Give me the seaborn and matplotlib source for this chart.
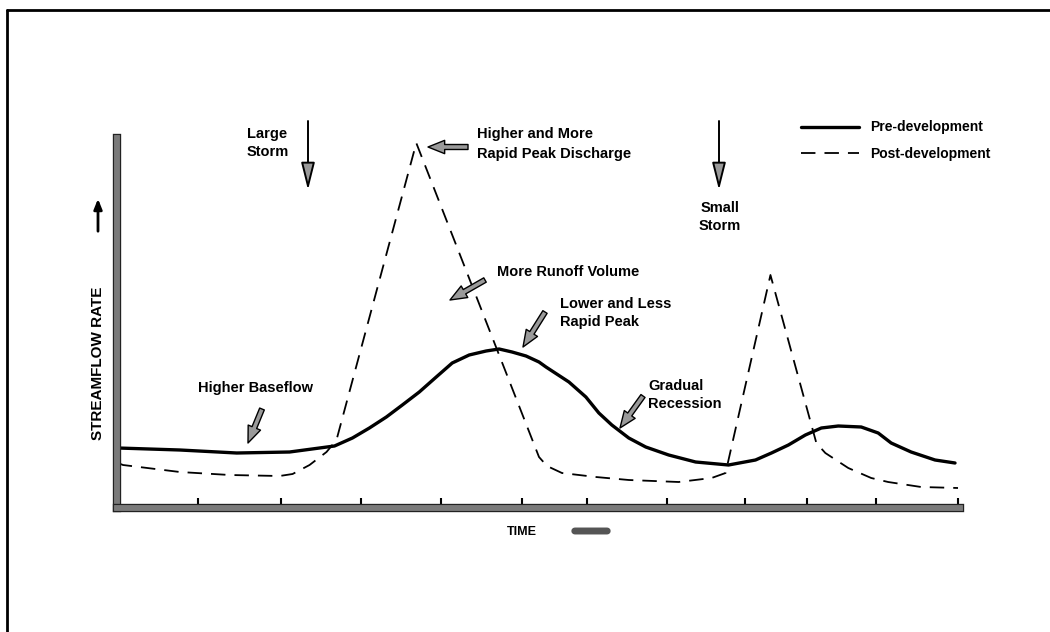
"""
Hidrograma pre/post desarrollo, recreado con seaborn.
"""
import matplotlib
matplotlib.use("Agg")
import matplotlib.pyplot as plt
import matplotlib.patheffects as pe
from matplotlib.lines import Line2D
import pandas as pd
import seaborn as sns

# tiempo (px horizontales) y caudal (altura sobre el eje)
pre_t = [118, 180, 237, 290, 320, 335, 353, 370, 387, 403, 420, 437, 453,
         470, 487, 500, 513, 527, 540, 547, 570, 587, 600, 613, 630, 647,
         670, 697, 730, 757, 773, 790, 807, 823, 840, 863, 880, 893, 913,
         937, 957]
pre_q = [60, 58, 55, 56, 60, 62, 70, 80, 91, 103, 116, 131, 145,
         153, 157, 159, 156, 152, 146, 141, 126, 111, 95, 83, 70, 61,
         53, 46, 43, 48, 55, 63, 73, 80, 82, 81, 75, 65, 56,
         48, 45]

post_t = [118, 123, 180, 230, 280, 293, 310, 327, 337, 417, 540, 548, 563,
          597, 630, 680, 713, 727, 772, 818, 827, 850, 873, 890, 923, 960]
post_q = [45, 43, 36, 33, 32, 34, 43, 56, 68, 365, 51, 42, 35,
          31, 28, 26, 30, 35, 233, 65, 55, 40, 30, 26, 21, 20]

ticks_t = [198, 281, 362, 442, 523, 588, 668, 746, 809, 878, 960]

W, H = 1050, 632


def px(x, y):
    """Pixel de la imagen (origen arriba) -> figure pixels."""
    return (x, H - y)


sns.set_theme(style="white")
plt.rcParams["font.family"] = ["Liberation Sans", "DejaVu Sans"]
plt.rcParams["text.color"] = "black"

fig = plt.figure(figsize=(10.5, 6.32), dpi=100)
ax = fig.add_axes([117 / W, (H - 508) / H, (960 - 117) / W, (508 - 138) / H])

pre = pd.DataFrame({"t": pre_t, "q": pre_q})
post = pd.DataFrame({"t": post_t, "q": post_q})
sns.lineplot(data=pre, x="t", y="q", ax=ax, color="black", lw=2.4,
             label="Pre-development", solid_joinstyle="round",
             solid_capstyle="round")
sns.lineplot(data=post, x="t", y="q", ax=ax, color="black", lw=1.3,
             label="Post-development")
ax.lines[1].set_dashes((8, 5))

ax.set_xlim(117, 962)
ax.set_ylim(0, 370)
ax.set_xticks(ticks_t)
ax.set_yticks([])
ax.set_xticklabels([])
ax.set_xlabel("")
ax.set_ylabel("")
ax.tick_params(axis="x", direction="in", length=7, width=1.5, color="black",
               bottom=True)
for s in ["top", "right"]:
    ax.spines[s].set_visible(False)
for s in ["left", "bottom"]:
    ax.spines[s].set_linewidth(4)
    ax.spines[s].set_color("#7a7a7a")
    ax.spines[s].set_path_effects([pe.withStroke(linewidth=6, foreground="#222"),
                                   pe.Normal()])

leg = ax.legend(loc="upper left", bbox_to_anchor=(788 / W, 1 - 108 / H),
                bbox_transform=fig.transFigure, frameon=False,
                handlelength=4.2, fontsize=10, labelspacing=0.9,
                handletextpad=0.8)
for t in leg.get_texts():
    t.set_fontweight("bold")

txt = dict(xycoords="figure pixels", fontsize=10.5, fontweight="bold",
           va="center", annotation_clip=False)
fat = dict(arrowstyle="simple,head_length=1.0,head_width=0.8,tail_width=0.3",
           fc="#9a9a9a", ec="black", lw=1.0, shrinkA=0, shrinkB=0)
thin = dict(arrowstyle="-|>,head_length=1.4,head_width=0.35",
            fc="#9a9a9a", ec="black", lw=1.4, shrinkA=0, shrinkB=0)

ax.annotate("Large\nStorm", px(247, 143), ha="left", linespacing=1.4, **txt)
ax.annotate("", xy=px(308, 190), xytext=px(308, 121), xycoords="figure pixels",
            arrowprops=thin, annotation_clip=False)

ax.annotate("Higher and More\nRapid Peak Discharge", px(477, 144), ha="left",
            linespacing=1.5, **txt)
ax.annotate("", xy=px(428, 147), xytext=px(468, 147), xycoords="figure pixels",
            arrowprops=fat, annotation_clip=False)

ax.annotate("Small\nStorm", px(720, 217), ha="center", linespacing=1.4, **txt)
ax.annotate("", xy=px(719, 190), xytext=px(719, 121), xycoords="figure pixels",
            arrowprops=thin, annotation_clip=False)

ax.annotate("More Runoff Volume", px(497, 272), ha="left", **txt)
ax.annotate("", xy=px(450, 300), xytext=px(485, 280), xycoords="figure pixels",
            arrowprops=fat, annotation_clip=False)

ax.annotate("Lower and Less\nRapid Peak", px(560, 313), ha="left",
            linespacing=1.4, **txt)
ax.annotate("", xy=px(523, 347), xytext=px(545, 312), xycoords="figure pixels",
            arrowprops=fat, annotation_clip=False)

ax.annotate("Higher Baseflow", px(198, 388), ha="left", **txt)
ax.annotate("", xy=px(248, 443), xytext=px(262, 409), xycoords="figure pixels",
            arrowprops=fat, annotation_clip=False)

ax.annotate("Gradual\nRecession", px(648, 395), ha="left", linespacing=1.4, **txt)
ax.annotate("", xy=px(620, 428), xytext=px(643, 396), xycoords="figure pixels",
            arrowprops=fat, annotation_clip=False)

# rotulos de ejes con sus flechas
ax.annotate("STREAMFLOW RATE", px(98, 363), ha="center", rotation=90,
            **dict(txt, fontsize=11))
ax.annotate("", xy=px(98, 196), xytext=px(98, 234), xycoords="figure pixels",
            arrowprops=dict(arrowstyle="-|>,head_length=0.5,head_width=0.2",
                            color="black", lw=2), annotation_clip=False)
ax.annotate("TIME", px(522, 532), ha="center", **dict(txt, fontsize=9))
ax.annotate("", xy=px(610, 531), xytext=px(572, 531), xycoords="figure pixels",
            arrowprops=dict(arrowstyle="-", color="#555", lw=5,
                            capstyle="round"), annotation_clip=False)

# marco de la pagina escaneada
fig.add_artist(Line2D([7 / W, 1], [1 - 10 / H, 1 - 10 / H],
                      transform=fig.transFigure, color="black", lw=2))
fig.add_artist(Line2D([7 / W, 7 / W], [0, 1 - 10 / H],
                      transform=fig.transFigure, color="black", lw=2))

fig.savefig("out.png", dpi=100)
